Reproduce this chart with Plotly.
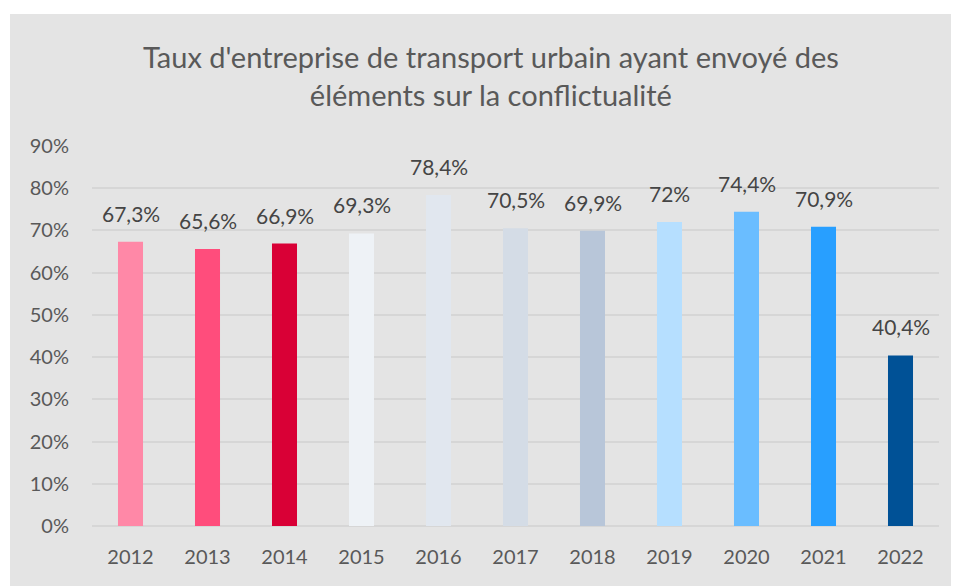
import plotly.graph_objects as go

years = ["2012", "2013", "2014", "2015", "2016", "2017", "2018", "2019", "2020", "2021", "2022"]
values = [67.3, 65.6, 66.9, 69.3, 78.4, 70.5, 69.9, 72.0, 74.4, 70.9, 40.4]
colors = ["#FF88A7", "#FF4D7C", "#D90036", "#EEF2F6", "#E1E7EF", "#D4DCE6",
          "#B8C6D9", "#B6DFFF", "#6ABDFF", "#289FFF", "#005196"]
y_ticks = [0, 10, 20, 30, 40, 50, 60, 70, 80, 90]
y_tick_labels = [f"{t}%" for t in y_ticks]
title_text = "Taux d'entreprise de transport urbain ayant envoyé des<br>éléments sur la conflictualité"


def fmt(v):
    s = f"{v:.1f}"
    if s.endswith(".0"):
        s = s[:-2]
    return s.replace(".", ",") + "%"


FONT = "Lato"
BG = "#E4E4E4"
OFF = 8  # default body margin of the html page

fig = go.Figure()
fig.add_trace(go.Bar(
    x=years, y=values, marker=dict(color=colors, line=dict(width=0)),
    hoverinfo="x+y",
))

# category axis: annotations use the category's serial index
for i, v in enumerate(values):
    fig.add_annotation(x=i, y=v, text=fmt(v), showarrow=False, yanchor="bottom",
                       yshift=14, font=dict(family=FONT, size=21, color="#454545"))

W, H = 959 - OFF, 586 - OFF
ml, mr, mt, mb = 92 - OFF, 959 - 939, 146 - OFF, 586 - 526
pw, ph = W - ml - mr, H - mt - mb

# gray chart area background (starts at x=10, y=14 in page pixels)
fig.add_shape(type="rect", xref="paper", yref="paper", layer="below",
              x0=(10 - OFF - ml) / pw, x1=(W + 5 - ml) / pw,
              y0=-(mb + 5) / ph, y1=(H - (14 - OFF)) / ph - mb / ph,
              fillcolor=BG, line=dict(width=0))

fig.add_annotation(xref="paper", yref="paper", x=(491 - OFF - ml) / pw,
                   y=(H - mb - (75.5 - OFF)) / ph,
                   text=title_text, showarrow=False, xanchor="center", yanchor="middle",
                   font=dict(family=FONT, size=29, color="#595959"))

fig.update_layout(
    width=W, height=H,
    margin=dict(l=ml, r=mr, t=mt, b=mb, pad=0),
    paper_bgcolor="white", plot_bgcolor=BG,
    showlegend=False,
    bargap=0.675,
    font=dict(family=FONT, color="#595959"),
    xaxis=dict(type="category", range=[-0.5, len(years) - 0.5],
               showgrid=False, showline=False, zeroline=False, ticks="",
               tickfont=dict(family=FONT, size=20, color="#595959"),
               ticklabelstandoff=17),
    yaxis=dict(range=[0, 90], tickvals=y_ticks, ticktext=y_tick_labels,
               showgrid=True, gridcolor="#D6D6D6", gridwidth=2,
               zeroline=True, zerolinecolor="#D6D6D6", zerolinewidth=2,
               showline=False, ticks="",
               tickfont=dict(family=FONT, size=20, color="#595959"),
               ticklabelstandoff=22),
)

fig.write_html("out.html")
